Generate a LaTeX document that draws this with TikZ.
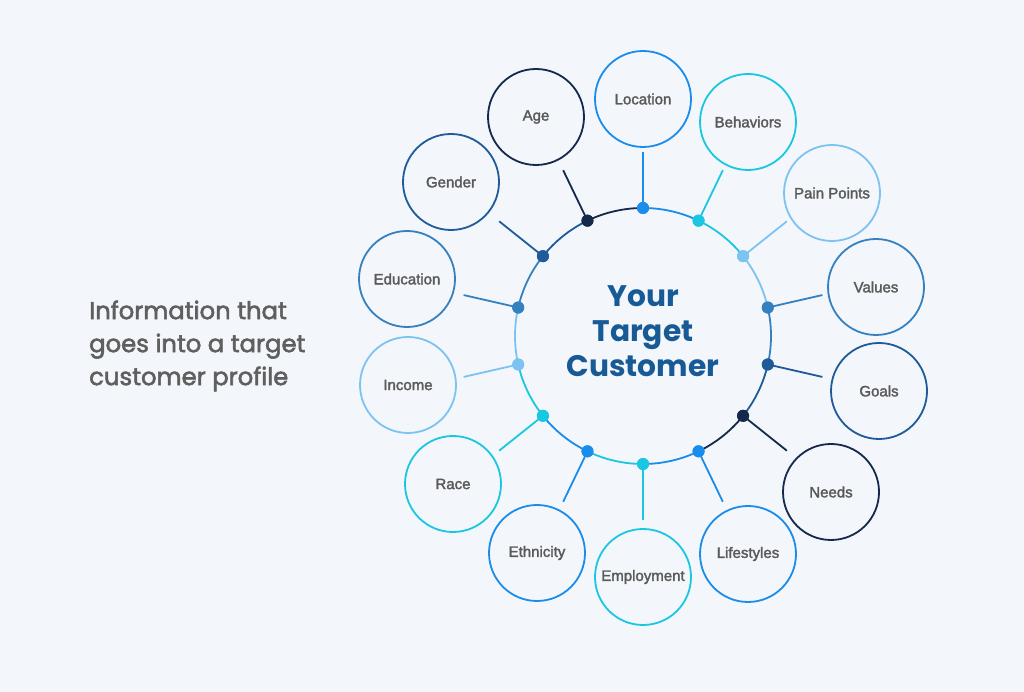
\documentclass[tikz,border=0pt]{standalone}
\usepackage{fontspec}
\setmainfont{Liberation Sans}
\newfontfamily\pop{Poppins}
\newcommand\heavytext[1]{\special{pdf:literal direct 0.373 0.373 0.373 RG 2 Tr 0.55 w}#1\special{pdf:literal direct 0 Tr}}
\newcommand\semitext[1]{\special{pdf:literal direct 0.353 0.353 0.353 RG 2 Tr 0.3 w}#1\special{pdf:literal direct 0 Tr}}
\definecolor{bgc}{HTML}{F3F6FA}
\definecolor{cnavy}{HTML}{14294B}
\definecolor{cblue}{HTML}{1A8CEB}
\definecolor{ccyan}{HTML}{19C7E2}
\definecolor{clight}{HTML}{7DC3F2}
\definecolor{cmid}{HTML}{3581C0}
\definecolor{cdark}{HTML}{1E5B98}
\definecolor{labelgray}{HTML}{5A5A5A}
\definecolor{titleblue}{HTML}{175A96}
\definecolor{sidegray}{HTML}{5F5F5F}
\tikzset{
  outer/.style={circle, draw=#1, line width=1.8pt, minimum size=96pt, inner sep=0pt,
    font=\fontsize{15}{18}\selectfont, text=labelgray},
  dotn/.style={circle, fill=#1, minimum size=12pt, inner sep=0pt},
  spoke/.style={draw=#1, line width=1.8pt},
  ring/.style={draw=#1, line width=1.8pt},
}
\begin{document}
\begin{tikzpicture}[x=1pt,y=1pt]
\useasboundingbox (0,0) rectangle (1024,692);
\fill[bgc] (0,0) rectangle (1024,692);
\node[font=\pop\fontsize{24.3}{33}\selectfont, text=sidegray, align=left, anchor=west, inner sep=0pt] (side) at (89,346) {\heavytext{Information that}\\\heavytext{goes into a target}\\\heavytext{customer profile}};
\coordinate (C) at (643,356);
% ring segments
\foreach \i/\col in {0/cblue,1/ccyan,2/clight,3/cmid,4/cdark,5/cnavy,6/cblue,7/ccyan,8/cblue,9/ccyan,10/clight,11/cmid,12/cdark,13/cnavy}{
  \pgfmathsetmacro{\ang}{90-\i*360/14}
  \draw[ring=\col] (C) ++(\ang:128) arc[start angle=\ang, end angle=\ang-360/14, radius=128];
}
% spokes, dots and outer circles
\foreach \i/\nm/\cx/\cy/\col/\lab in {
  0/loc/643/593/cblue/Location,
  1/beh/748/570/ccyan/Behaviors,
  2/pain/832/499/clight/Pain Points,
  3/val/876/405/cmid/Values,
  4/goal/879/301/cdark/Goals,
  5/need/831/200/cnavy/Needs,
  6/life/748/138/cblue/Lifestyles,
  7/emp/643/115/ccyan/Employment,
  8/eth/537/139/cblue/Ethnicity,
  9/race/453/208/ccyan/Race,
  10/inc/408/307/clight/Income,
  11/edu/407/413/cmid/Education,
  12/gen/451/510/cdark/Gender,
  13/age/536/575/cnavy/Age}{
  \pgfmathsetmacro{\ang}{90-\i*360/14}
  \path (C) ++(\ang:128) node[dotn=\col] (d\nm) {};
  \path (C) ++(\ang:184) coordinate (e\nm);
  \draw[spoke=\col] (d\nm.center) -- (e\nm);
  \node[dotn=\col] at (d\nm.center) {};
  \node[outer=\col] (o\nm) at (\cx,\cy) {\semitext{\lab}};
}
\node[font=\pop\bfseries\fontsize{29.7}{35}\selectfont, text=titleblue, align=center, inner sep=0pt] (title) at (643,361) {Your\\Target\\Customer};
\end{tikzpicture}
\end{document}
